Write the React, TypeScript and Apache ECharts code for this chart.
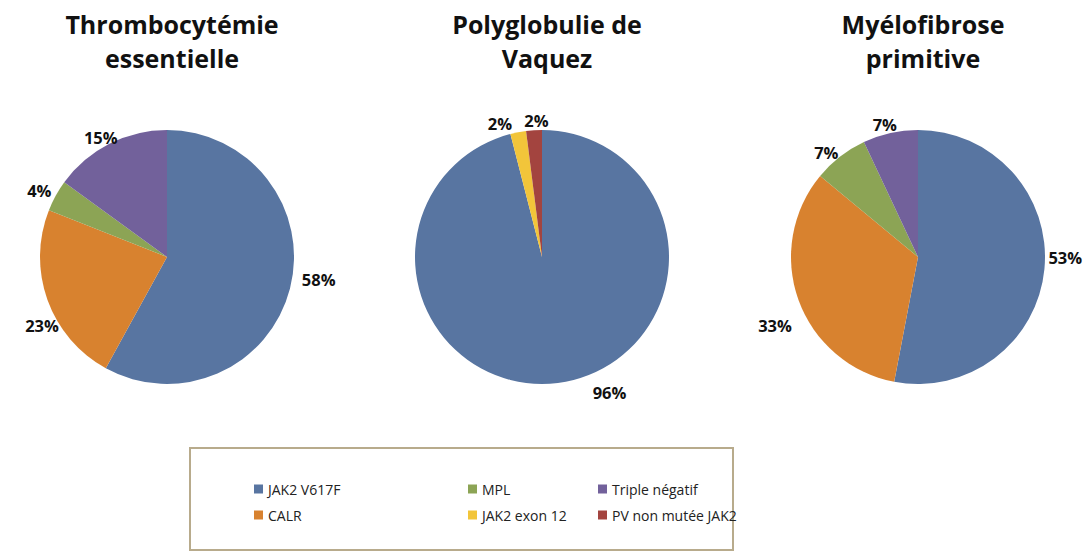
import React, { useEffect, useRef } from "react";
import * as echarts from "echarts";

const categories = ["JAK2 V617F", "CALR", "MPL", "JAK2 exon 12", "Triple négatif", "PV non mutée JAK2"];
const colors: Record<string, string> = {
  "JAK2 V617F": "#5875a1",
  "CALR": "#d8822f",
  "MPL": "#8ca455",
  "JAK2 exon 12": "#f2c53a",
  "Triple négatif": "#72619b",
  "PV non mutée JAK2": "#a3443f",
};

const titles = ["Thrombocytémie\nessentielle", "Polyglobulie de\nVaquez", "Myélofibrose\nprimitive"];

const teNames = ["JAK2 V617F", "CALR", "MPL", "Triple négatif"];
const teValues = [58, 23, 4, 15];
const pvNames = ["JAK2 V617F", "JAK2 exon 12", "PV non mutée JAK2"];
const pvValues = [96, 2, 2];
const mfNames = ["JAK2 V617F", "CALR", "MPL", "Triple négatif"];
const mfValues = [53, 33, 7, 7];

const legendCol1 = ["JAK2 V617F", "CALR"];
const legendCol2 = ["MPL", "JAK2 exon 12"];
const legendCol3 = ["Triple négatif", "PV non mutée JAK2"];

const FONT = "'Open Sans', sans-serif";

// label nudges (Excel-like "outside end" placement)
const labelNudges = [
  [[-1, -11], [24, 23], [8, -2], [18, -1]],
  [[27, 4], [2, -3], [22, -4]],
  [[-9, -12], [6, 23], [9, 1], [15, -3]],
];

export default function App() {
  const ref = useRef<HTMLDivElement>(null);
  useEffect(() => {
    document.body.style.margin = "0";
    const chart = echarts.init(ref.current!, null, { renderer: "svg" });
    const centersX = [167, 542, 918];
    const sets = [
      { names: teNames, values: teValues },
      { names: pvNames, values: pvValues },
      { names: mfNames, values: mfValues },
    ];
    const series = sets.map((s, i) => ({
      type: "pie",
      name: titles[i],
      center: [centersX[i], 257],
      radius: [0, 127],
      startAngle: 90,
      clockwise: true,
      avoidLabelOverlap: false,
      label: {
        show: true,
        position: "outside",
        formatter: (p: any) => p.value + "%",
        fontFamily: FONT,
        fontWeight: "bold",
        fontSize: 16.5,
        color: "#111",
      },
      labelLine: { show: false, length: 6, length2: 2 },
      labelLayout: (p: any) => {
        const n = labelNudges[i][p.dataIndex] || [0, 0];
        return { dx: n[0], dy: n[1], hideOverlap: false };
      },
      emphasis: { disabled: true },
      itemStyle: { borderWidth: 0 },
      data: s.names.map((n, j) => ({ name: n, value: s.values[j], itemStyle: { color: colors[n] } })),
    }));
    const legendBase = {
      orient: "vertical",
      top: 477,
      itemWidth: 9,
      itemHeight: 9,
      itemGap: 12,
      icon: "rect",
      selectedMode: false,
      textStyle: { fontFamily: FONT, fontSize: 14, color: "#222" },
    };
    chart.setOption({
      animation: false,
      backgroundColor: "#fff",
      title: titles.map((t, i) => ({
        text: t,
        left: centersX[i],
        top: 2,
        textAlign: "center",
        textStyle: { fontFamily: FONT, fontWeight: "bold", fontSize: 25, lineHeight: 34, color: "#111" },
      })),
      legend: [
        { ...legendBase, left: 249, data: legendCol1 },
        { ...legendBase, left: 463, data: legendCol2 },
        { ...legendBase, left: 593, data: legendCol3 },
      ],
      graphic: [
        {
          type: "rect",
          shape: { x: 190, y: 448, width: 543, height: 102 },
          style: { fill: "none", stroke: "#b8ab8c", lineWidth: 2 },
        },
      ],
      series,
    });
    return () => chart.dispose();
  }, []);
  return <div ref={ref} style={{ width: 1088, height: 554 }} />;
}
